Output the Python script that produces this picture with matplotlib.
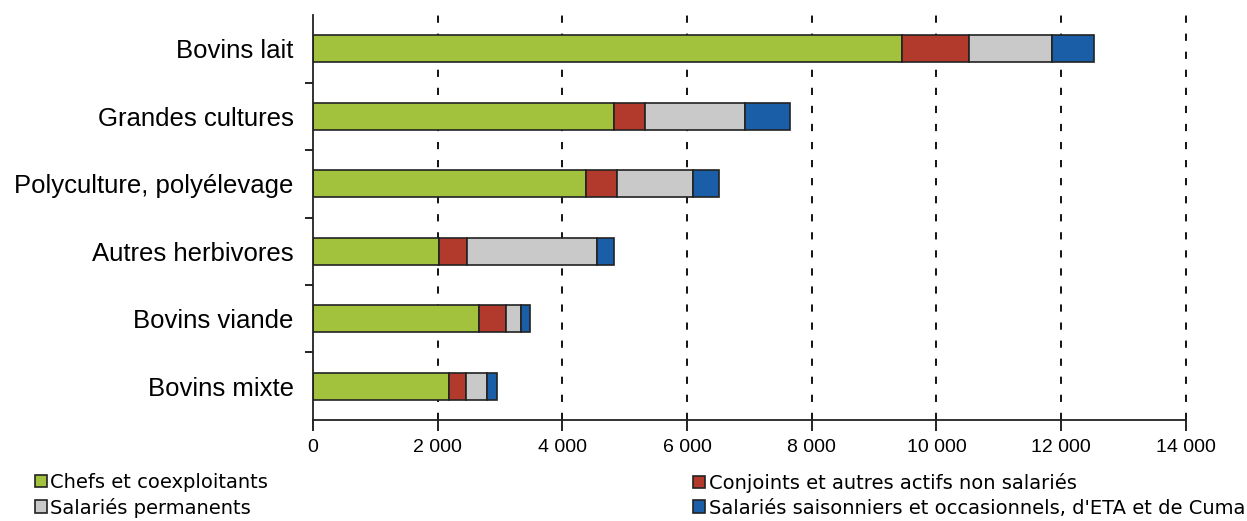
import matplotlib.pyplot as plt
import numpy as np

categories = ['Bovins lait', 'Grandes cultures', 'Polyculture, polyélevage',
              'Autres herbivores', 'Bovins viande', 'Bovins mixte']
chefs = [9450, 4830, 4380, 2020, 2660, 2180]
conjoints = [1070, 500, 490, 450, 430, 270]
salaries_perm = [1330, 1600, 1220, 2080, 250, 340]
saisonniers = [670, 720, 420, 280, 140, 160]

series = [
    ('Chefs et coexploitants', chefs, '#a2c13c'),
    ('Conjoints et autres actifs non salariés', conjoints, '#b23a2c'),
    ('Salariés permanents', salaries_perm, '#c9c9c9'),
    ("Salariés saisonniers et occasionnels, d'ETA et de Cuma", saisonniers, '#1a5ea8'),
]

plt.rcParams['font.family'] = ['Liberation Sans', 'DejaVu Sans']

fig = plt.figure(figsize=(12.47, 5.21), dpi=100)
ax = fig.add_axes([0.251, 0.194, 0.700, 0.777])

y = np.arange(len(categories))
left = np.zeros(len(categories))
handles = {}
for name, vals, col in series:
    h = ax.barh(y, vals, left=left, height=0.4, color=col,
                edgecolor='#222222', linewidth=1.2, label=name)
    handles[name] = h
    left += np.array(vals)

ax.set_xlim(0, 14000)
ax.set_ylim(len(categories) - 0.5, -0.5)
ax.set_axisbelow(True)

xt = np.arange(0, 14001, 2000)
ax.set_xticks(xt)
ax.set_xticklabels([f'{v:,}'.replace(',', ' ') for v in xt], fontsize=14)
for v in xt[1:]:
    ax.axvline(v, color='black', linestyle=(0, (4, 6)), linewidth=1.3,
               zorder=0, clip_on=False)

ax.set_yticks(y)
ax.set_yticklabels(categories, fontsize=18.5)
ax.tick_params(axis='y', length=0, pad=14)
ax.set_yticks(np.arange(-0.5, len(categories), 1.0)[1:-1], minor=True)
ax.tick_params(axis='y', which='minor', length=6, width=1.2, direction='out')
ax.tick_params(axis='x', length=8, width=1.2, direction='out', pad=6)

for s in ['top', 'right']:
    ax.spines[s].set_visible(False)
for s in ['left', 'bottom']:
    ax.spines[s].set_linewidth(1.3)
    ax.spines[s].set_color('#222222')

leg_font = {'family': ['DejaVu Sans'], 'size': 14}
leg_opts = dict(loc='upper left', frameon=False, handlelength=0.6,
                handleheight=0.6, handletextpad=0.2, labelspacing=0.28,
                borderaxespad=0, borderpad=0, prop=leg_font)
left_names = ['Chefs et coexploitants', 'Salariés permanents']
right_names = ['Conjoints et autres actifs non salariés',
               "Salariés saisonniers et occasionnels, d'ETA et de Cuma"]
fig.legend([handles[k] for k in left_names], left_names,
           bbox_to_anchor=(0.028, 0.092), **leg_opts)
fig.legend([handles[k] for k in right_names], right_names,
           bbox_to_anchor=(0.556, 0.092), **leg_opts)

fig.savefig('out.png', dpi=100)
